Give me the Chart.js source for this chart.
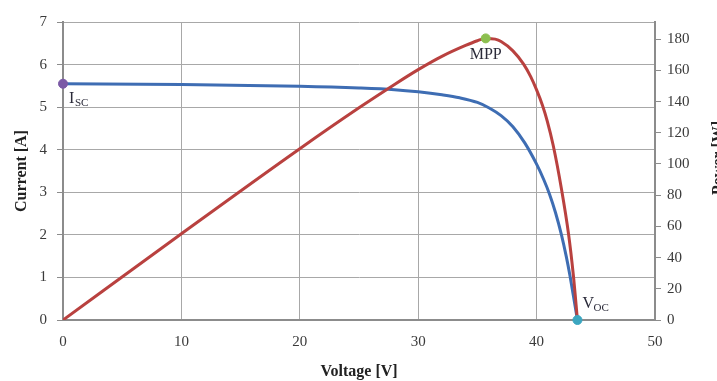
<!DOCTYPE html>
<html>
<head>
<meta charset="utf-8">
<script src="https://cdn.jsdelivr.net/npm/chart.js@4.4.0/dist/chart.umd.min.js"></script>
<style>
  html, body { margin: 0; padding: 0; background: #fff; }
  #wrap { width: 717px; height: 381px; }
</style>
</head>
<body>
<div id="wrap"><canvas id="ivChart"></canvas></div>
<script>
// I-V curve (current vs voltage)
const voltage = [0, 10, 20, 25, 28, 30, 32, 33.5, 35, 36, 37, 38, 39, 40, 40.6, 41.1, 41.6, 42.1, 42.5, 42.8, 43.1, 43.45];
const current = [5.55, 5.53, 5.49, 5.45, 5.41, 5.36, 5.29, 5.22, 5.11, 4.98, 4.80, 4.54, 4.16, 3.66, 3.3, 2.95, 2.52, 2.0, 1.5, 1.07, 0.58, 0];
// P-V curve (power vs voltage)
const powerVoltage = [0, 10, 20, 25, 28, 30, 32, 34, 35, 35.7, 36.5, 37, 38, 38.9, 39.5, 40, 40.5, 40.9, 41.4, 42.1, 42.7, 43.1, 43.45];
const power = [0, 55.3, 109.8, 136, 151, 160.5, 169, 176, 179, 180.5, 180, 178.5, 172.5, 164, 156, 147.5, 137.5, 127.5, 112, 84, 55, 29, 0];
// marked points
const iscPoint = [0, 5.55];
const mppPoint = [35.7, 180.5];
const vocPoint = [43.45, 0];
const xTicks = [0, 10, 20, 30, 40, 50];
const currentTicks = [0, 1, 2, 3, 4, 5, 6, 7];
const powerTicks = [0, 20, 40, 60, 80, 100, 120, 140, 160, 180];

const serif = '"Liberation Serif", "DejaVu Serif", serif';
const gridColor = '#a8a8a8';
const axisColor = '#8c8c8c';

const ivData = voltage.map((v, i) => ({ x: v, y: current[i] }));
const pvData = powerVoltage.map((v, i) => ({ x: v, y: power[i] }));

const annotate = {
  id: 'annotate',
  afterDraw(chart) {
    const ctx = chart.ctx;
    const x = chart.scales.x, y = chart.scales.y, y1 = chart.scales.y1;
    ctx.save();
    ctx.fillStyle = '#2b2b3a';
    ctx.textBaseline = 'alphabetic';
    ctx.textAlign = 'left';

    // I_SC
    let px = x.getPixelForValue(iscPoint[0]) + 6;
    let py = y.getPixelForValue(iscPoint[1]) + 19;
    ctx.font = '16px ' + serif;
    ctx.fillText('I', px, py);
    ctx.font = '11px ' + serif;
    ctx.fillText('SC', px + 6, py + 3);

    // MPP
    ctx.textAlign = 'center';
    ctx.font = '16px ' + serif;
    ctx.fillText('MPP', x.getPixelForValue(mppPoint[0]), y1.getPixelForValue(mppPoint[1]) + 21);

    // V_OC
    ctx.textAlign = 'left';
    px = x.getPixelForValue(vocPoint[0]) + 5;
    py = y.getPixelForValue(vocPoint[1]) - 12;
    ctx.font = '16px ' + serif;
    ctx.fillText('V', px, py);
    ctx.font = '11px ' + serif;
    ctx.fillText('OC', px + 11, py + 3);

    // right axis title, partly cut at the edge
    ctx.translate(719, 158);
    ctx.rotate(-Math.PI / 2);
    ctx.textAlign = 'center';
    ctx.textBaseline = 'middle';
    ctx.font = 'bold 16px ' + serif;
    ctx.fillStyle = '#222';
    ctx.fillText('Power [W]', 0, 0);
    ctx.restore();
  }
};

new Chart(document.getElementById('ivChart'), {
  type: 'scatter',
  data: {
    datasets: [
      {
        label: 'Current',
        data: ivData,
        yAxisID: 'y',
        showLine: true,
        borderColor: '#3e6db3',
        borderWidth: 3,
        pointRadius: 0,
        cubicInterpolationMode: 'monotone',
        order: 2
      },
      {
        label: 'Power',
        data: pvData,
        yAxisID: 'y1',
        showLine: true,
        borderColor: '#b9413f',
        borderWidth: 3,
        pointRadius: 0,
        cubicInterpolationMode: 'monotone',
        order: 1
      },
      {
        label: 'Isc',
        data: [{ x: iscPoint[0], y: iscPoint[1] }],
        yAxisID: 'y',
        backgroundColor: '#7b5aa6',
        borderColor: '#7b5aa6',
        pointRadius: 4.5,
        clip: false,
        order: 0
      },
      {
        label: 'MPP',
        data: [{ x: mppPoint[0], y: mppPoint[1] }],
        yAxisID: 'y1',
        backgroundColor: '#8cbf4f',
        borderColor: '#8cbf4f',
        pointRadius: 4.5,
        clip: false,
        order: 0
      },
      {
        label: 'Voc',
        data: [{ x: vocPoint[0], y: vocPoint[1] }],
        yAxisID: 'y',
        backgroundColor: '#3ba6c0',
        borderColor: '#3ba6c0',
        pointRadius: 4.5,
        clip: false,
        order: 0
      }
    ]
  },
  options: {
    responsive: true,
    maintainAspectRatio: false,
    animation: false,
    layout: { padding: { top: 22, left: 0, right: 0, bottom: 0 } },
    plugins: {
      legend: { display: false },
      tooltip: { enabled: false }
    },
    scales: {
      x: {
        type: 'linear',
        min: 0,
        max: 50,
        afterBuildTicks: s => { s.ticks = xTicks.map(v => ({ value: v })); },
        afterFit: s => { s.height = 61; },
        grid: { color: gridColor, lineWidth: 1, drawTicks: false },
        border: { color: axisColor, width: 2 },
        ticks: { color: '#3a3a3a', font: { family: serif, size: 15 }, padding: 13 },
        title: { display: true, text: 'Voltage [V]', color: '#222', font: { family: serif, size: 16, weight: 'bold' }, padding: { top: 2, bottom: 0 } }
      },
      y: {
        type: 'linear',
        position: 'left',
        min: 0,
        max: 7,
        afterBuildTicks: s => { s.ticks = currentTicks.map(v => ({ value: v })); },
        afterFit: s => { s.width = 63; },
        grid: { color: gridColor, lineWidth: 1, tickLength: 6, tickColor: axisColor },
        border: { color: axisColor, width: 2 },
        ticks: { color: '#3a3a3a', font: { family: serif, size: 15 }, padding: 10 },
        title: { display: true, text: 'Current [A]', color: '#222', font: { family: serif, size: 16, weight: 'bold' }, padding: { top: 12, bottom: 0 } }
      },
      y1: {
        type: 'linear',
        position: 'right',
        min: 0,
        max: 191,
        afterBuildTicks: s => { s.ticks = powerTicks.map(v => ({ value: v })); },
        afterFit: s => { s.width = 62; },
        grid: { drawOnChartArea: false, tickLength: 6, color: axisColor },
        border: { color: axisColor, width: 2 },
        ticks: { color: '#3a3a3a', font: { family: serif, size: 15 }, padding: 6 }
      }
    }
  },
  plugins: [annotate]
});
</script>
</body>
</html>
